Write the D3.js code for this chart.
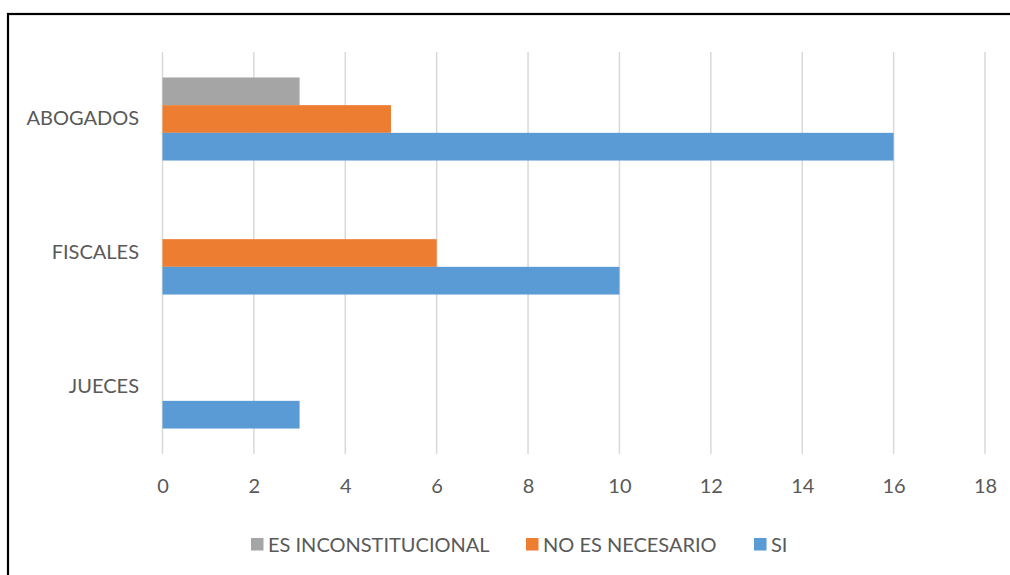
<!DOCTYPE html>
<html><head><meta charset="utf-8">
<script src="https://cdn.jsdelivr.net/npm/d3@7/dist/d3.min.js"></script>
<style>body{margin:0;background:#fff;}svg{display:block;font-family:Lato,"Open Sans",sans-serif;}</style>
</head><body>
<svg id="c" width="1010" height="575"></svg>
<script>
const categories = ["ABOGADOS", "FISCALES", "JUECES"];
const seriesNames = ["ES INCONSTITUCIONAL", "NO ES NECESARIO", "SI"];
const esInconstitucional = [3, 0, 0];
const noEsNecesario = [5, 6, 0];
const si = [16, 10, 3];
const tickValues = [0, 2, 4, 6, 8, 10, 12, 14, 16, 18];
const colors = ["#A5A5A5", "#ED7D31", "#5B9BD5"];

const seriesValues = [esInconstitucional, noEsNecesario, si];
const svg = d3.select("#c");
svg.append("rect").attr("x", 8).attr("y", 14).attr("width", 1100).attr("height", 700)
  .attr("fill", "none").attr("stroke", "#000").attr("stroke-width", 2.2);

const x = d3.scaleLinear().domain([0, 18]).range([162.5, 985]);
const y = d3.scaleBand().domain(categories).range([52, 454]).padding(0);
const ys = d3.scaleBand().domain(seriesNames).range([0, y.bandwidth()]).paddingInner(0).paddingOuter(0.92);

// gridlines
svg.append("g").selectAll("line").data(tickValues).join("line")
  .attr("x1", d => x(d)).attr("x2", d => x(d)).attr("y1", 52).attr("y2", 454)
  .attr("stroke", "#D9D9D9").attr("stroke-width", 1.5);

// bars
seriesNames.forEach((s, si_) => {
  svg.append("g").selectAll("rect").data(categories).join("rect")
    .attr("x", x(0)).attr("y", (c) => y(c) + ys(s))
    .attr("width", (c, i) => x(seriesValues[si_][i]) - x(0))
    .attr("height", ys.bandwidth())
    .attr("fill", colors[si_]);
});

const FS = 20;
// axis labels
const xAxis = d3.axisBottom(x).tickValues(tickValues).tickSize(0).tickPadding(0);
const gx = svg.append("g").attr("transform", "translate(0,486)").call(xAxis);
gx.select(".domain").remove();
gx.selectAll("text").attr("font-size", FS).attr("fill", "#595959").attr("dy", "0.35em").attr("font-family", "Lato");

const yAxis = d3.axisLeft(y).tickSize(0).tickPadding(0);
const gy = svg.append("g").attr("transform", "translate(139,0)").call(yAxis);
gy.select(".domain").remove();
gy.selectAll("text").attr("font-size", FS).attr("fill", "#595959").attr("font-family", "Lato");

// legend
const legX = [251, 526, 754];
const leg = svg.append("g");
seriesNames.forEach((s, i) => {
  leg.append("rect").attr("x", legX[i]).attr("y", 538).attr("width", 12.5).attr("height", 12.5).attr("fill", colors[i]);
  leg.append("text").attr("x", legX[i] + 17).attr("y", 545).attr("dy", "0.35em")
    .attr("font-size", FS).attr("fill", "#595959").text(s);
});
</script>
</body></html>
